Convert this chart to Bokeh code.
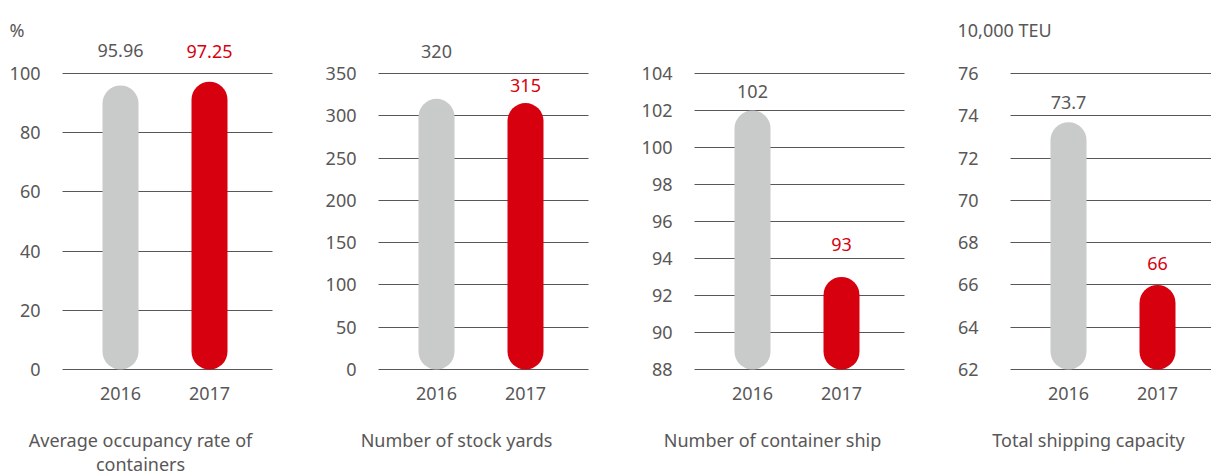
from bokeh.plotting import figure
from bokeh.layouts import row
from bokeh.models import Range1d, FixedTicker, ColumnDataSource, LabelSet, Label
from bokeh.core.properties import value
from bokeh.embed import file_html
from bokeh.resources import INLINE

# ---------------- data ----------------
years = ["2016", "2017"]

occupancy_rate = [95.96, 97.25]
stock_yards = [320, 315]
container_ships = [102, 93]
shipping_capacity = [73.7, 66]

occupancy_labels = ["95.96", "97.25"]
stock_yard_labels = ["320", "315"]
container_ship_labels = ["102", "93"]
capacity_labels = ["73.7", "66"]

occupancy_ticks = [0, 20, 40, 60, 80, 100]
stock_yard_ticks = [0, 50, 100, 150, 200, 250, 300, 350]
container_ship_ticks = [88, 90, 92, 94, 96, 98, 100, 102, 104]
capacity_ticks = [62, 64, 66, 68, 70, 72, 74, 76]

titles = ["Average occupancy rate of\ncontainers", "Number of stock yards",
          "Number of container ship", "Total shipping capacity"]
units = ["%", "", "", "10,000 TEU"]

# ---------------- style / layout ----------------
FONT = "Noto Sans"
FS = "18px"
TEXT_GRAY = "#595757"
GRID = "#595757"
BAR_GRAY = "#c9caca"
RED = "#d7000f"

HEIGHT = 475
AXIS_TOP_PX = 73       # top tick line from figure top
AXIS_BOTTOM_PX = 369   # baseline from figure top
PX_PER_X = 89.0        # pixels between the two bars
LEFT_PAD_PX = 58.0     # axis to first bar centre
BAR_PX = 36

panel_widths = [324, 316, 316, 255]
axis_left_px = [62, 54, 54, 54]          # y axis position inside each figure
grid_len_px = [210, 210, 210, 201]
tick_standoff = [22, 22, 22, 32]
value_label_dy = [[28, 24], [41, 11.6], [12.7, 26.5], [13.3, 15.1]]


def make_panel(vals, texts, ticks, title, unit, dy, width, axis_px, grid_len, standoff):
    ymin, ymax = ticks[0], ticks[-1]
    ppu = (AXIS_BOTTOM_PX - AXIS_TOP_PX) / (ymax - ymin)
    yr = Range1d(ymin - (HEIGHT - AXIS_BOTTOM_PX) / ppu, ymax + AXIS_TOP_PX / ppu)
    x_start = -(axis_px + LEFT_PAD_PX) / PX_PER_X
    xr = Range1d(x_start, x_start + width / PX_PER_X)
    axis_x = -LEFT_PAD_PX / PX_PER_X

    p = figure(width=width, height=HEIGHT, x_range=xr, y_range=yr,
               output_backend="svg", toolbar_location=None, min_border=0)
    p.outline_line_color = None
    p.background_fill_color = "white"
    p.border_fill_color = "white"
    p.xgrid.visible = False
    p.ygrid.visible = False

    xs = list(range(len(years)))
    src = ColumnDataSource(dict(
        x=xs, top=vals, text=texts, year=years,
        color=[BAR_GRAY, RED], text_color=[TEXT_GRAY, RED], dy=dy))

    bars = p.vbar(x="x", top="top", bottom=ymin, width=BAR_PX / PX_PER_X,
                  fill_color="color", line_color=None, border_radius=BAR_PX // 2,
                  source=src)
    bars.level = "overlay"

    p.add_layout(LabelSet(x="x", y="top", text="text", y_offset="dy",
                          text_color="text_color", text_align="center",
                          text_baseline="alphabetic", text_font=value(FONT),
                          text_font_size=FS, source=src))

    # y axis drawn inside the plot; its long ticks form the horizontal rules
    ya = p.yaxis[0]
    ya.fixed_location = axis_x
    ya.ticker = FixedTicker(ticks=ticks)
    ya.axis_line_color = None
    ya.minor_tick_line_color = None
    ya.major_tick_out = 0
    ya.major_tick_in = grid_len
    ya.major_tick_line_color = GRID
    ya.major_tick_line_width = 1
    ya.major_label_standoff = standoff
    ya.level = "underlay"

    xa = p.xaxis[0]
    xa.fixed_location = ymin
    xa.ticker = FixedTicker(ticks=xs)
    xa.major_label_overrides = {i: y for i, y in zip(xs, years)}
    xa.axis_line_color = None
    xa.major_tick_line_color = None
    xa.minor_tick_line_color = None
    xa.major_tick_out = 0
    xa.major_tick_in = 0
    xa.major_label_standoff = 17

    for ax in (xa, ya):
        ax.major_label_text_font = FONT
        ax.major_label_text_font_size = FS
        ax.major_label_text_color = TEXT_GRAY

    if unit:
        p.add_layout(Label(x=axis_x, y=ymax, x_offset=-53, y_offset=44,
                           text=unit, text_align="left",
                           text_baseline="alphabetic", text_font=FONT,
                           text_font_size=FS, text_color=TEXT_GRAY))
    p.add_layout(Label(x=axis_x, y=ymin, x_offset=78, y_offset=-58,
                       text=title, text_align="center", text_baseline="top",
                       text_font=FONT, text_font_size=FS, text_color=TEXT_GRAY,
                       text_line_height=1.0))
    return p


panels = [
    (occupancy_rate, occupancy_labels, occupancy_ticks),
    (stock_yards, stock_yard_labels, stock_yard_ticks),
    (container_ships, container_ship_labels, container_ship_ticks),
    (shipping_capacity, capacity_labels, capacity_ticks),
]

figs = []
for i, (vals, texts, ticks) in enumerate(panels):
    figs.append(make_panel(vals, texts, ticks, titles[i], units[i],
                           value_label_dy[i], panel_widths[i], axis_left_px[i],
                           grid_len_px[i], tick_standoff[i]))

layout = row(*figs, spacing=0)
open("out.html", "w").write(file_html(layout, INLINE))
